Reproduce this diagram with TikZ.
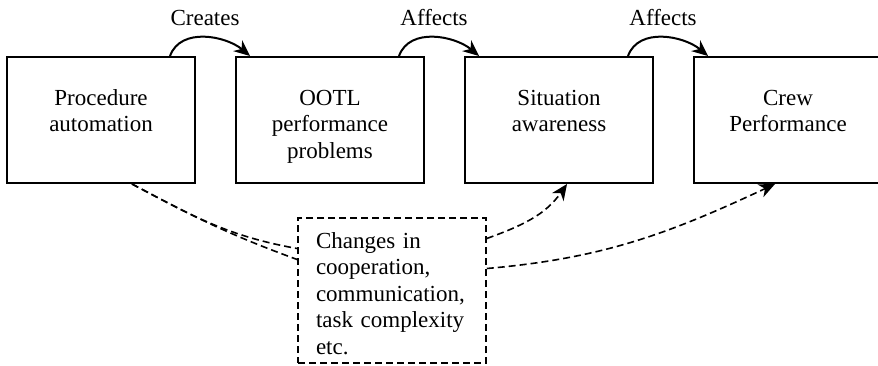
\documentclass[tikz,border=0pt]{standalone}
\usepackage{fontspec}
\setmainfont{Liberation Serif}
\usetikzlibrary{arrows.meta}

\begin{document}
\begin{tikzpicture}[x=1pt, y=1pt, >={Stealth[length=16pt,width=14pt,inset=5pt]},
  every node/.style={font=\fontsize{23}{26.5}\selectfont},
  box/.style={draw, line width=2pt, text width=188pt, align=center,
    inner sep=0pt, text height=48pt, text depth=78pt},
  notebox/.style={draw, line width=1.6pt, dash pattern=on 7pt off 4pt,
    text width=152pt, align=left, inner xsep=18pt, inner ysep=0pt,
    text height=30pt, text depth=115pt},
  link/.style={->, line width=2pt},
  dlink/.style={line width=1.6pt, dash pattern=on 7pt off 4pt}]
  \useasboundingbox (0,0) rectangle (878,365);

  % Main chain of boxes
  \node[box] (pa) at (101,245) {Procedure\\automation};
  \node[box] (oo) at (330,245) {OOTL\\performance\\problems};
  \node[box] (sa) at (559,245) {Situation\\awareness};
  \node[box] (cp) at (788,245) {Crew\\Performance};

  % Side factors
  \node[notebox] (ch) at (392,74.5) {Changes in\\cooperation,\\communication,\\task complexity\\etc.};

  % Arrows along the top
  \draw[link] ([xshift=-26pt]pa.north east) to[out=70,in=140]
    node[midway, above=11pt, inner sep=0pt] (cr) {Creates} ([xshift=15pt]oo.north west);
  \draw[link] ([xshift=-26pt]oo.north east) to[out=70,in=140]
    node[midway, above=11pt, inner sep=0pt] (af1) {Affects} ([xshift=15pt]sa.north west);
  \draw[link] ([xshift=-26pt]sa.north east) to[out=70,in=140]
    node[midway, above=11pt, inner sep=0pt] (af2) {Affects} ([xshift=15pt]cp.north west);

  % Dashed links through the side factors
  \draw[dlink] ([xshift=31pt]pa.south) to[out=-28,in=170] ([yshift=42pt]ch.west);
  \draw[dlink] ([xshift=31pt]pa.south) to[out=-28,in=160] ([yshift=31pt]ch.west);
  \draw[dlink, ->] ([yshift=52pt]ch.east) to[out=20,in=235] ([xshift=8pt]sa.south);
  \draw[dlink, ->] ([yshift=22pt]ch.east) to[out=5,in=205] ([xshift=-13pt]cp.south);
\end{tikzpicture}
\end{document}
